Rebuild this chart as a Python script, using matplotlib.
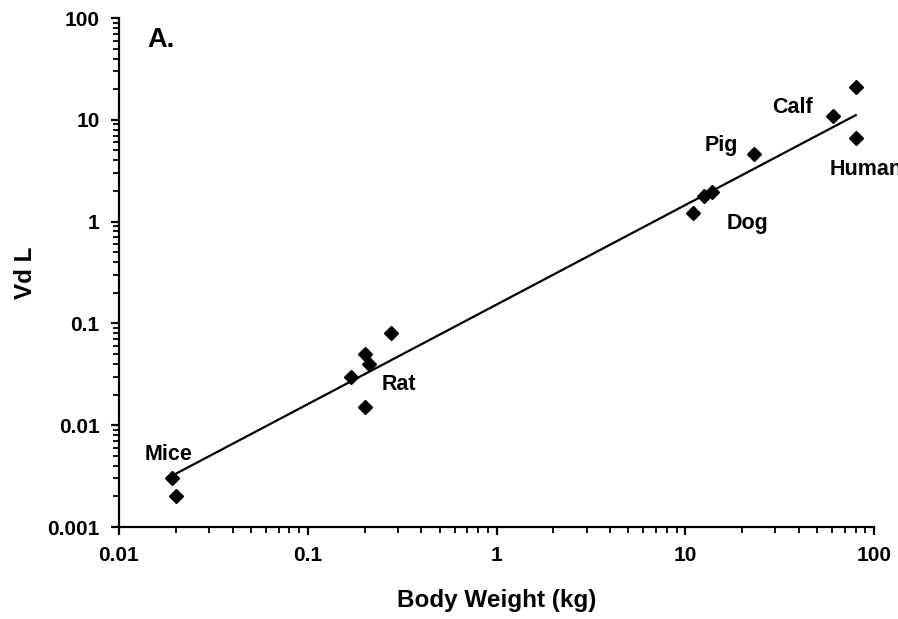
import numpy as np
import matplotlib
matplotlib.use('Agg')
import matplotlib.pyplot as plt
from matplotlib.ticker import LogLocator, FixedFormatter, FixedLocator, NullFormatter

# body weight (kg) and Vd (L)
weight = [0.019, 0.020, 0.276, 0.201, 0.212, 0.170, 0.201,
          11.0, 12.6, 13.8, 23.2, 60.4, 80.0, 80.0]
vd = [0.0030, 0.0020, 0.081, 0.050, 0.040, 0.030, 0.015,
      1.21, 1.80, 1.94, 4.58, 10.9, 21.1, 6.6]

# fitted power law drawn in the picture: Vd = a * W^b
fit_a = 0.153
fit_b = 0.978

# species labels: text, x, y (data coords, left/baseline)
labels = ['Mice', 'Rat', 'Calf', 'Pig', 'Human', 'Dog']
label_x = [0.0137, 0.247, 28.8, 12.7, 58.5, 16.6]
label_y = [0.00455, 0.0222, 11.7, 4.94, 2.87, 0.846]

ticks_x = [0.01, 0.1, 1, 10, 100]
ticks_x_lab = ['0.01', '0.1', '1', '10', '100']
ticks_y = [0.001, 0.01, 0.1, 1, 10, 100]
ticks_y_lab = ['0.001', '0.01', '0.1', '1', '10', '100']

plt.rcParams['font.family'] = ['Liberation Sans', 'DejaVu Sans']
plt.rcParams['font.weight'] = 'bold'

fig = plt.figure(figsize=(8.98, 6.19), dpi=100)
ax = fig.add_axes([0.1325, 0.1486, 0.8408, 0.8223])

ax.set_xscale('log')
ax.set_yscale('log')

xf = np.array([min(weight), max(weight)])
ax.plot(xf, fit_a * xf ** fit_b, color='black', lw=1.6, zorder=2)

ax.plot(weight, vd, linestyle='none', marker='D', ms=7, color='black', zorder=3)

# the "Human" label runs off the right edge in the original too
for t, x, y in zip(labels, label_x, label_y):
    ax.text(x, y, t, ha='left', va='baseline', fontsize=15.5, fontweight='bold')

ax.text(0.037, 0.943, 'A.', transform=ax.transAxes, ha='left', va='baseline',
        fontsize=19.5, fontweight='bold')

ax.set_xlim(0.01, 100)
ax.set_ylim(0.001, 100)

ax.xaxis.set_major_locator(FixedLocator(ticks_x))
ax.xaxis.set_major_formatter(FixedFormatter(ticks_x_lab))
ax.yaxis.set_major_locator(FixedLocator(ticks_y))
ax.yaxis.set_major_formatter(FixedFormatter(ticks_y_lab))
ax.xaxis.set_minor_locator(LogLocator(base=10, subs=np.arange(2, 10)))
ax.yaxis.set_minor_locator(LogLocator(base=10, subs=np.arange(2, 10)))
ax.xaxis.set_minor_formatter(NullFormatter())
ax.yaxis.set_minor_formatter(NullFormatter())

for s in ['top', 'right']:
    ax.spines[s].set_visible(False)
for s in ['left', 'bottom']:
    ax.spines[s].set_linewidth(1.6)

ax.tick_params(which='major', direction='out', length=6, width=1.6, labelsize=15, pad=8)
ax.tick_params(which='minor', direction='out', length=4, width=1.3)

ax.set_xlabel('Body Weight (kg)', fontsize=17.5, fontweight='bold', labelpad=17)
ax.set_ylabel('Vd L', fontsize=17.5, fontweight='bold', labelpad=7)

fig.savefig('out.png', dpi=100)
